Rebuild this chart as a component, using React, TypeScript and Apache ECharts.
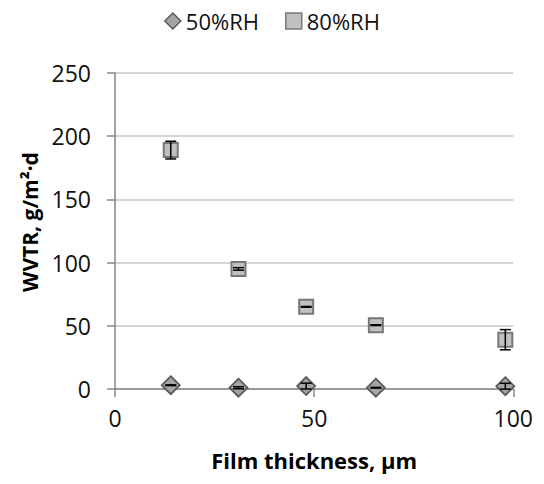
import React, { useEffect, useRef } from "react";
import * as echarts from "echarts";

const thickness50 = [14, 31, 48, 65.5, 98];
const wvtr50 = [3, 1, 2.3, 1, 2.2];
const err50 = [0.3, 0.8, 2.3, 0.3, 2.3];

const thickness80 = [14, 31, 48, 65.5, 98];
const wvtr80 = [189, 95, 65, 50.5, 39];
const err80 = [7, 1, 0.3, 0.3, 8];

const seriesNames = ["50%RH", "80%RH"];
const xTicks = { min: 0, max: 100, interval: 50 };
const yTicks = { min: 0, max: 250, interval: 50 };

const FONT = "Open Sans";

function errorRender(params: any, api: any) {
  const x = api.value(0);
  const y = api.value(1);
  const e = api.value(2);
  const top = api.coord([x, y + e]);
  const bot = api.coord([x, y - e]);
  const hw = 5.5;
  const style = { stroke: "#000", lineWidth: 1.5 };
  return {
    type: "group",
    children: [
      { type: "line", shape: { x1: top[0], y1: top[1], x2: bot[0], y2: bot[1] }, style },
      { type: "line", shape: { x1: top[0] - hw, y1: top[1], x2: top[0] + hw, y2: top[1] }, style },
      { type: "line", shape: { x1: bot[0] - hw, y1: bot[1], x2: bot[0] + hw, y2: bot[1] }, style },
    ],
  };
}

export default function App() {
  const ref = useRef<HTMLDivElement>(null);
  useEffect(() => {
    if (!ref.current) return;
    const chart = echarts.init(ref.current, undefined, { renderer: "svg" });
    const d50 = thickness50.map((x, i) => [x, wvtr50[i]]);
    const d80 = thickness80.map((x, i) => [x, wvtr80[i]]);
    const e50 = thickness50.map((x, i) => [x, wvtr50[i], err50[i]]);
    const e80 = thickness80.map((x, i) => [x, wvtr80[i], err80[i]]);
    chart.setOption({
      animation: false,
      textStyle: { fontFamily: FONT },
      legend: {
        top: 0,
        padding: [2, 5, 2, 5],
        left: "center",
        itemGap: 26,
        itemWidth: 16,
        itemHeight: 16,
        textStyle: { fontFamily: FONT, fontSize: 22, color: "#111" },
        data: [
          { name: seriesNames[0], icon: "diamond", itemStyle: { color: "#a5a5a5", borderColor: "#5a5a5a", borderWidth: 1.5 } },
          { name: seriesNames[1], icon: "rect", itemStyle: { color: "#c0c0c0", borderColor: "#7a7a7a", borderWidth: 1.5 } },
        ],
      },
      grid: { left: 107, right: 14, top: 65, bottom: 83, containLabel: false },
      xAxis: {
        type: "value",
        min: xTicks.min,
        max: xTicks.max,
        interval: xTicks.interval,
        name: "Film thickness, μm",
        nameLocation: "middle",
        nameGap: 60,
        nameTextStyle: { fontFamily: FONT, fontSize: 22, fontWeight: "bold", color: "#000" },
        axisLine: { show: true, onZero: false, lineStyle: { color: "#868686", width: 1.5 } },
        axisTick: { show: true, inside: false, length: 8, lineStyle: { color: "#868686", width: 1.5 } },
        axisLabel: { fontFamily: FONT, fontSize: 23, color: "#111", margin: 17 },
        splitLine: { show: false },
      },
      yAxis: {
        type: "value",
        min: yTicks.min,
        max: yTicks.max,
        interval: yTicks.interval,
        name: "WVTR, g/m²·d",
        nameLocation: "middle",
        nameRotate: 90,
        nameGap: 74,
        nameTextStyle: { fontFamily: FONT, fontSize: 21, fontWeight: "bold", color: "#000", padding: [0, 0, 0, 18] },
        axisLine: { show: true, lineStyle: { color: "#868686", width: 1.5 } },
        axisTick: { show: true, inside: false, length: 8, lineStyle: { color: "#868686", width: 1.5 } },
        axisLabel: { fontFamily: FONT, fontSize: 23, color: "#111", margin: 24 },
        splitLine: { show: true, lineStyle: { color: "#c8c8c8", width: 1.5 } },
      },
      series: [
        {
          name: seriesNames[0],
          type: "scatter",
          symbol: "diamond",
          symbolSize: 18,
          data: d50,
          itemStyle: { color: "#a5a5a5", borderColor: "#5a5a5a", borderWidth: 1.8, opacity: 1 },
          z: 3,
        },
        {
          name: seriesNames[1],
          type: "scatter",
          symbol: "rect",
          symbolSize: 14,
          data: d80,
          itemStyle: { color: "#c0c0c0", borderColor: "#777777", borderWidth: 2, opacity: 1 },
          z: 3,
        },
        { name: "err50", type: "custom", renderItem: errorRender, data: e50, z: 5, encode: { x: 0, y: 1 } },
        { name: "err80", type: "custom", renderItem: errorRender, data: e80, z: 5, encode: { x: 0, y: 1 } },
      ],
    });
    return () => chart.dispose();
  }, []);
  return <div ref={ref} style={{ width: 528, height: 468 }} />;
}
